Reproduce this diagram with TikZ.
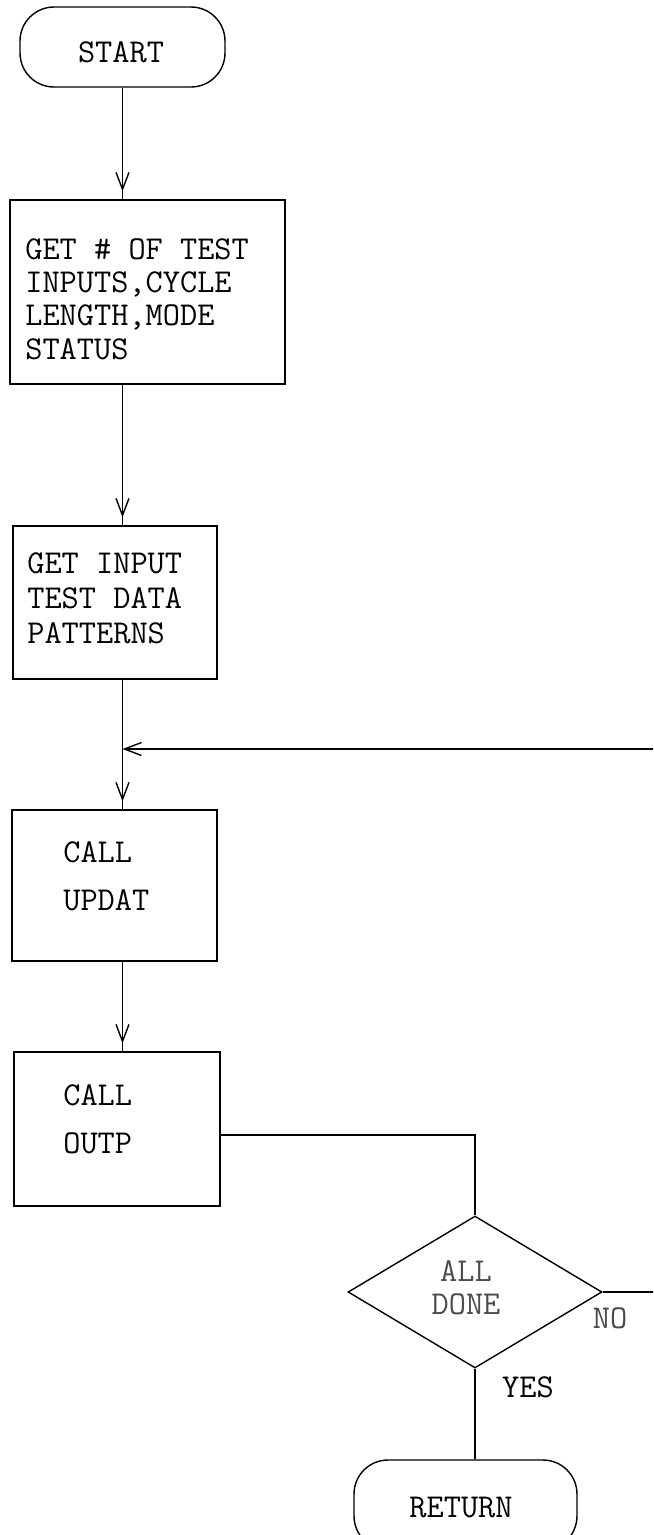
\documentclass[tikz,border=0pt]{standalone}
\usepackage{fontspec}
\usetikzlibrary{arrows.meta,shapes.geometric,calc,decorations.markings}
\begin{document}
\begin{tikzpicture}[x=0.02cm,y=-0.02cm,
  >={Straight Barb[length=0.34cm,width=0.26cm]},
  ln/.style={line width=0.8pt, draw=black},
  flow/.style={ln, postaction={decorate},
    decoration={markings, mark=at position -0.16cm with {\arrow{>}}}},
  pbox/.style={ln, rectangle, inner sep=0pt},
  term/.style={ln, rectangle, rounded corners=0.68cm, inner sep=0pt},
  dec/.style={ln, diamond, inner sep=0pt},
  txt/.style={font=\ttfamily\fontsize{19}{19}\selectfont, align=left, inner sep=0pt, text=black},
  faint/.style={txt, text=black!70}]
\useasboundingbox (0,0) rectangle (653,1535);
\fill[white] (0,0) rectangle (653,1535);
\clip (0,0) rectangle (653,1535);

% shapes
\node[term, minimum width=4.1cm, minimum height=1.6cm] (start) at (122.5,47) {};
\node[pbox, minimum width=5.5cm, minimum height=3.68cm] (b1) at (147.5,292) {};
\node[pbox, minimum width=4.08cm, minimum height=3.06cm] (b2) at (115,602.5) {};
\node[pbox, minimum width=4.1cm, minimum height=3.02cm] (b3) at (114.5,885.5) {};
\node[pbox, minimum width=4.12cm, minimum height=3.08cm] (b4) at (117,1129) {};
\node[dec, minimum width=5.08cm, minimum height=3.04cm] (dia) at (475,1292) {};
\node[term, minimum width=4.46cm, minimum height=1.8cm] (ret) at (465.5,1505) {};

% texts
\node[txt] (startt) at (121,52) {START};
\node[txt, anchor=west] (t1) at (25,299) {GET \# OF TEST\\INPUTS,CYCLE\\LENGTH,MODE\\STATUS};
\node[txt, anchor=west, font=\ttfamily\fontsize{19}{20}\selectfont] (t2) at (27,598) {GET INPUT\\TEST DATA\\PATTERNS};
\node[txt, anchor=west, font=\ttfamily\fontsize{19}{27.3}\selectfont] (t3) at (63,876) {CALL\\UPDAT};
\node[txt, anchor=west, font=\ttfamily\fontsize{19}{27.3}\selectfont] (t4) at (63,1119) {CALL\\OUTP};
\node[faint, align=center, font=\ttfamily\fontsize{19}{18.8}\selectfont] (dt) at (466,1288) {ALL\\DONE};
\node[faint] (no) at (610,1318) {NO};
\node[txt] (yes) at (528,1387) {YES};
\node[txt] (rett) at (461,1507) {RETURN};

% connectors
\coordinate (j) at (start.south |- 0,749);
\draw[flow] (start.south) -- (start.south |- b1.north);
\draw[flow] (b1.south -| start.south) -- (b2.north -| start.south);
\draw[flow] (b2.south -| start.south) -- (b3.north -| start.south);
\draw[flow] (b3.south -| start.south) -- (b4.north -| start.south);
\draw[ln] ($(b4.east)+(0,6)$) -| (dia.north);
\draw[ln] (dia.south) -- (dia.south |- ret.north);
\draw[ln,->] (dia.east) -- ++(100,0) |- (j);
\end{tikzpicture}
\end{document}
